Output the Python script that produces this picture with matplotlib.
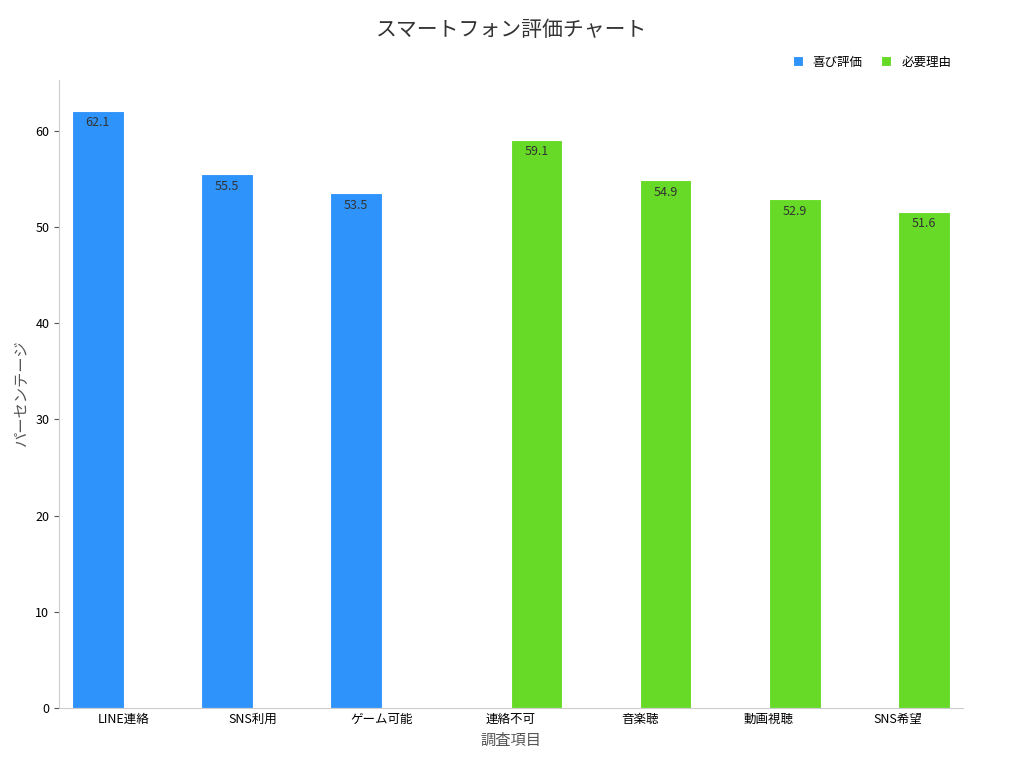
import numpy as np
import matplotlib.pyplot as plt

plt.rcParams['font.family'] = 'Noto Sans CJK JP'

categories = ['LINE連絡', 'SNS利用', 'ゲーム可能', '連絡不可', '音楽聴', '動画視聴', 'SNS希望']
joy = [62.1, 55.5, 53.5, 0, 0, 0, 0]
need = [0, 0, 0, 59.1, 54.9, 52.9, 51.6]

fig = plt.figure(figsize=(10.24, 7.68), dpi=100)
ax = fig.add_axes([0.0576, 0.078, 0.8824, 0.818])

x = np.arange(len(categories))
w = 0.4
b1 = ax.bar(x - w / 2, joy, w, color='#2E93FA', edgecolor='white', linewidth=0.8, label='喜び評価')
b2 = ax.bar(x + w / 2, need, w, color='#66DA26', edgecolor='white', linewidth=0.8, label='必要理由')

for bars, vals in ((b1, joy), (b2, need)):
    for r, v in zip(bars, vals):
        if v > 0:
            ax.text(r.get_x() + r.get_width() / 2, v - 0.6, f'{v:.1f}',
                    ha='center', va='top', fontsize=9, color='#333333')

ax.set_xlim(-0.5, 6.5)
ax.set_ylim(0, 65.3)
ax.set_xticks(x)
ax.set_xticklabels(categories, fontsize=9)
ax.set_yticks(range(0, 61, 10))
ax.tick_params(axis='y', labelsize=9, color='#555555')
ax.tick_params(axis='x', length=0)
for s in ('top', 'right'):
    ax.spines[s].set_visible(False)
for s in ('left', 'bottom'):
    ax.spines[s].set_color('#cccccc')

ax.set_xlabel('調査項目', fontsize=11, color='#555555')
ax.set_ylabel('パーセンテージ', fontsize=11, color='#555555')
fig.suptitle('スマートフォン評価チャート', fontsize=15, color='#333333', y=0.975)
ax.legend(loc='lower right', bbox_to_anchor=(1.0, 1.0), ncol=2, frameon=False,
          fontsize=9, handlelength=0.8, handleheight=0.8, columnspacing=1.5)

fig.savefig('out.png', dpi=100)
